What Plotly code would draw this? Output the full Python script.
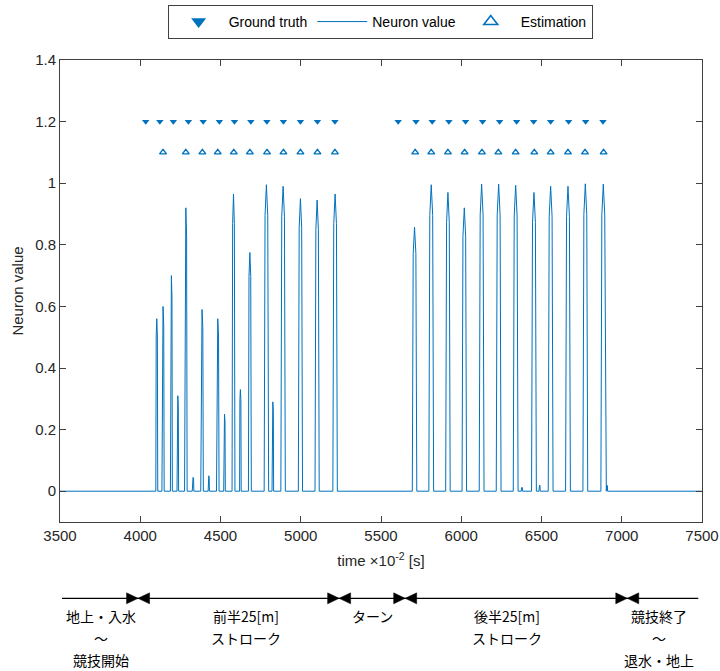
import plotly.graph_objects as go

# ---------------- data ----------------
gt_time = [4034, 4122, 4206, 4300, 4392, 4493, 4587, 4689, 4789, 4892, 4998, 5104, 5213,
           5607, 5718, 5819, 5923, 6027, 6133, 6239, 6345, 6451, 6557, 6669, 6775, 6883]
gt_value = [1.2] * len(gt_time)

est_time = [4142, 4284, 4387, 4483, 4583, 4683, 4790, 4892, 4998, 5104, 5213,
            5713, 5813, 5917, 6021, 6129, 6231, 6339, 6455, 6557, 6665, 6771, 6887]
est_value = [1.1] * len(est_time)

# neuron output pulses: peak time, peak height, half width at base
pulse_time = [4103, 4142, 4194, 4234, 4284, 4329, 4385, 4427, 4483, 4525, 4581, 4624, 4683,
              4786, 4826, 4890, 4998, 5102, 5214,
              5709, 5813, 5917, 6019, 6127, 6233, 6339, 6378, 6453, 6488, 6557, 6665, 6773, 6885, 6908]
pulse_height = [0.56, 0.60, 0.70, 0.31, 0.92, 0.045, 0.59, 0.05, 0.56, 0.25, 0.965, 0.33, 0.775,
                0.995, 0.29, 0.99, 0.95, 0.945, 0.965,
                0.857, 0.995, 0.97, 0.92, 0.997, 0.997, 0.993, 0.013, 0.97, 0.02, 0.99, 0.99, 0.998, 0.997, 0.02]
pulse_halfwidth = [6, 7, 6, 5, 8, 5, 8, 4, 8, 5, 9, 5, 9,
                   14, 5, 14, 13, 13, 14,
                   14, 15, 14, 14, 15, 15, 15, 4, 15, 4, 15, 15, 15, 15, 4]
t_start, t_end = 3500, 7500

xticks = [3500, 4000, 4500, 5000, 5500, 6000, 6500, 7000, 7500]
yticks = [0, 0.2, 0.4, 0.6, 0.8, 1, 1.2, 1.4]
ytick_text = ["0", "0.2", "0.4", "0.6", "0.8", "1", "1.2", "1.4"]

# phase labels of the swim timeline, one list per text row
phase_row1 = ["地上・入水", "前半25[m]", "ターン", "後半25[m]", "競技終了"]
phase_row2 = ["～", "ストローク", "", "ストローク", "～"]
phase_row3 = ["競技開始", "", "", "", "退水・地上"]

# ---------------- build neuron line from the pulses ----------------
nt, nv = [t_start], [0.0]
for c, h, w in zip(pulse_time, pulse_height, pulse_halfwidth):
    nt += [c - w, c - 0.6 * w, c, c + 0.6 * w, c + w]
    nv += [0.0, 0.9 * h, h, 0.9 * h, 0.0]
nt.append(t_end)
nv.append(0.0)

BLUE = "#0072BD"
FONT = "Liberation Sans, Arial, Helvetica, sans-serif"
CJK = "Noto Sans CJK JP"

fig = go.Figure()
fig.add_trace(go.Scatter(x=gt_time, y=gt_value, mode="markers", showlegend=False,
                         marker=dict(symbol="triangle-down", size=6.5, color=BLUE)))
fig.add_trace(go.Scatter(x=nt, y=nv, mode="lines", showlegend=False,
                         line=dict(color=BLUE, width=1)))
fig.add_trace(go.Scatter(x=est_time, y=est_value, mode="markers", showlegend=False,
                         marker=dict(symbol="triangle-up-open", size=6, color=BLUE,
                                     line=dict(width=1.4, color=BLUE))))
# legend entries (larger symbols as in the reference legend)
fig.add_trace(go.Scatter(x=[None], y=[None], mode="markers", name="Ground truth",
                         marker=dict(symbol="triangle-down", size=13, color=BLUE)))
fig.add_trace(go.Scatter(x=[None], y=[None], mode="lines", name="Neuron value",
                         line=dict(color=BLUE, width=1)))
fig.add_trace(go.Scatter(x=[None], y=[None], mode="markers", name="Estimation",
                         marker=dict(symbol="triangle-up-open", size=12, color=BLUE,
                                     line=dict(width=1.6, color=BLUE))))

# page body margin is removed in the page script, so figure == window
PL, PR, PT, PB = 60, 701.7, 60, 521.7      # plot area in page pixels
W, H = 720, 671
L, T = PL, PT
R, B = W - PR, H - PB
pw, ph = PR - PL, PB - PT


def px(xp):
    return (xp - PL) / pw


def py(yp):
    return (PB - yp) / ph


shapes = []
annotations = []
# timeline line
shapes.append(dict(type="line", xref="paper", yref="paper", x0=px(62), x1=px(698),
                   y0=py(598), y1=py(598), line=dict(color="black", width=1.3)))
for bx in [138, 339, 405, 627]:
    for sgn in (-1, 1):
        shapes.append(dict(type="path", xref="paper", yref="paper",
                           xsizemode="pixel", ysizemode="pixel",
                           xanchor=px(bx), yanchor=py(598),
                           path=f"M {sgn*11.5},-5.5 L 0,0 L {sgn*11.5},5.5 Z",
                           fillcolor="black", line=dict(color="black", width=0.5)))

label_x = [101, 246, 372, 507, 659]
for row, yrow in zip([phase_row1, phase_row2, phase_row3], [616, 638, 660]):
    for lx, txt in zip(label_x, row):
        if not txt:
            continue
        annotations.append(dict(x=px(lx), y=py(yrow), xref="paper", yref="paper", text=txt,
                                showarrow=False, xanchor="center", yanchor="middle",
                                font=dict(family=CJK, size=14, color="black")))

axis_common = dict(showline=True, mirror="ticks", linecolor="#404040", linewidth=1,
                   ticks="inside", ticklen=6, tickcolor="#404040", tickwidth=1,
                   showgrid=False, zeroline=False, automargin=False,
                   tickfont=dict(family=FONT, size=15, color="#262626"))

fig.update_layout(
    width=W, height=H,
    margin=dict(l=L, r=R, t=T, b=B, autoexpand=False),
    paper_bgcolor="white", plot_bgcolor="white",
    font=dict(family=FONT, size=15, color="#262626"),
    xaxis=dict(range=[3500, 7500], tickvals=xticks, tickformat="d",
               title=dict(text="time ×10<sup>-2</sup> [s]", standoff=12,
                          font=dict(family=FONT, size=15, color="#262626")),
               **axis_common),
    yaxis=dict(range=[-0.1, 1.4], tickvals=yticks, ticktext=ytick_text,
               title=dict(text="Neuron value", standoff=7,
                          font=dict(family=FONT, size=15, color="#262626")),
               **axis_common),
    legend=dict(orientation="h", x=px(380), xanchor="center", y=py(5), yanchor="top",
                bordercolor="#404040", borderwidth=1, bgcolor="white",
                font=dict(family=FONT, size=14, color="black"),
                itemwidth=50),
    shapes=shapes,
    annotations=annotations,
)

fig.write_html(
    "out.html",
    config={"displayModeBar": False},
    post_script="document.documentElement.style.overflow='hidden';"
                "document.body.style.overflow='hidden';"
                "document.body.style.margin='0';",
)
